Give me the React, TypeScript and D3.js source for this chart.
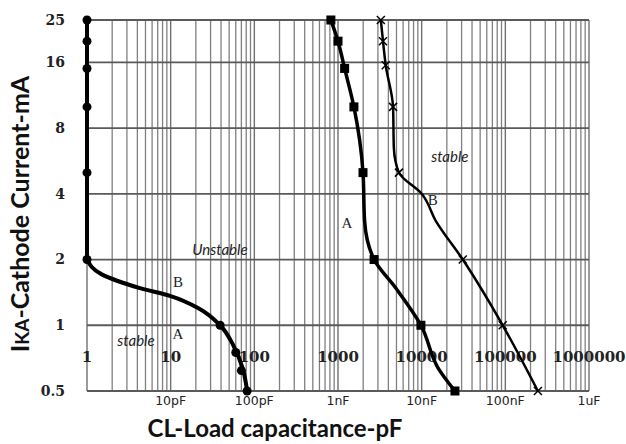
import React from 'react';
import * as d3 from 'd3';

// left curve (pF / mA)
const leftCap = [1, 1, 1, 1, 1, 1, 1.5, 4.3, 10, 22, 39, 56, 73, 82];
const leftMa = [25, 20, 15, 10, 5, 2, 1.71, 1.48, 1.36, 1.19, 1.0, 0.81, 0.63, 0.5];
const leftMarkCap = [1, 1, 1, 1, 1, 1, 39, 60, 70, 82];
const leftMarkMa = [25, 20, 15, 10, 5, 2, 1.0, 0.75, 0.62, 0.5];

// curve A
const aCap = [822, 1000, 1200, 1550, 1990, 2080, 2700, 4900, 9800, 16000, 25000];
const aMa = [25, 20, 15, 10, 5, 3, 2, 1.48, 1, 0.63, 0.5];
const aMarkCap = [822, 1000, 1200, 1550, 1990, 2700, 9800, 25000];
const aMarkMa = [25, 20, 15, 10, 5, 2, 1, 0.5];

// curve B
const bCap = [3250, 3450, 3720, 4550, 4650, 5350, 10000, 14800, 31000, 93000, 245000];
const bMa = [25, 20, 15.5, 10, 6.5, 5, 4, 3, 2, 1, 0.5];
const bMarkCap = [3250, 3450, 3720, 4550, 5350, 31000, 93000, 245000];
const bMarkMa = [25, 20, 15.5, 10, 5, 2, 1, 0.5];

const yTicks = [0.5, 1, 2, 4, 8, 16, 25];
const xTicks = [1, 10, 100, 1000, 10000, 100000, 1000000];
const unitTicks = [10, 100, 1000, 10000, 100000, 1000000];
const unitLabels = ['10pF', '100pF', '1nF', '10nF', '100nF', '1uF'];

const noteText = ['B', 'A', 'stable', 'Unstable', 'A', 'stable', 'B'];
const noteCap = [12.2, 12.2, 3.85, 38.8, 1277, 21700, 13600];
const noteMa = [1.58, 0.915, 0.85, 2.22, 2.95, 5.92, 3.77];
const noteItalic = [false, false, true, true, false, true, false];

const W = 626;
const H = 444;

export default function App() {
  const x = d3.scaleLog().domain([1, 1e6]).range([87, 589]);
  const y = d3.scaleLog().base(2).domain([0.5, 25]).range([391, 20]);

  const minor: number[] = [];
  for (let d = 1; d < 1e6; d *= 10) {
    for (let m = 2; m <= 9; m++) minor.push(d * m);
  }

  const smooth = d3
    .line<[number, number]>()
    .x((d) => x(d[0]))
    .y((d) => y(d[1]))
    .curve(d3.curveMonotoneY);
  const straight = d3
    .line<[number, number]>()
    .x((d) => x(d[0]))
    .y((d) => y(d[1]));

  const zip = (a: number[], b: number[]) => a.map((v, i) => [v, b[i]] as [number, number]);
  const left = zip(leftCap, leftMa);
  const leftUp = left.slice(0, 6);
  const leftTail = left.slice(5);

  return (
    <svg width={W} height={H} style={{ position: 'absolute', left: 0, top: 0, background: '#fff' }}>
      <rect width={W} height={H} fill="#fff" />
      {/* grid */}
      {minor.map((v) => (
        <line key={'m' + v} x1={x(v)} x2={x(v)} y1={y(25)} y2={y(0.5)} stroke="#808080" strokeWidth={1.3} />
      ))}
      {xTicks.map((v) => (
        <line key={'v' + v} x1={x(v)} x2={x(v)} y1={y(25)} y2={y(0.5)} stroke="#707070" strokeWidth={1.4} />
      ))}
      {yTicks.map((v) => (
        <line key={'h' + v} x1={x(1)} x2={x(1e6)} y1={y(v)} y2={y(v)} stroke="#5a5a5a" strokeWidth={1.8} />
      ))}

      {/* y tick labels */}
      {yTicks.map((v) => (
        <text key={'yt' + v} x={65} y={y(v)} dy="0.35em" textAnchor="end"
          fontFamily="DejaVu Serif" fontWeight="bold" fontSize={14} fill="#222">{v}</text>
      ))}
      {/* x tick labels inside plot */}
      {xTicks.map((v) => (
        <text key={'xt' + v} x={x(v)} y={357} dy="0.35em" textAnchor="middle"
          fontFamily="DejaVu Serif" fontWeight="bold" fontSize={15} fill="#222">{v}</text>
      ))}
      {unitTicks.map((v, i) => (
        <text key={'u' + v} x={x(v)} y={401} dy="0.35em" textAnchor="middle"
          fontFamily="DejaVu Sans" fontSize={12.5} fill="#222">{unitLabels[i]}</text>
      ))}

      {/* curves */}
      <path d={straight(leftUp) || ''} fill="none" stroke="#000" strokeWidth={4} />
      <path d={smooth(leftTail) || ''} fill="none" stroke="#000" strokeWidth={4} />
      <path d={smooth(zip(aCap, aMa)) || ''} fill="none" stroke="#000" strokeWidth={3.5} />
      <path d={smooth(zip(bCap, bMa)) || ''} fill="none" stroke="#000" strokeWidth={2.5} />

      {leftMarkCap.map((c, i) => (
        <circle key={'lm' + i} cx={x(c)} cy={y(leftMarkMa[i])} r={4.5} fill="#000" />
      ))}
      {aMarkCap.map((c, i) => (
        <rect key={'am' + i} x={x(c) - 4.5} y={y(aMarkMa[i]) - 4.5} width={9} height={9} fill="#000" />
      ))}
      {bMarkCap.map((c, i) => {
        const cx = x(c);
        const cy = y(bMarkMa[i]);
        return (
          <g key={'bm' + i} stroke="#000" strokeWidth={1.5}>
            <line x1={cx - 4} y1={cy - 4} x2={cx + 4} y2={cy + 4} />
            <line x1={cx - 4} y1={cy + 4} x2={cx + 4} y2={cy - 4} />
          </g>
        );
      })}

      {/* annotations */}
      {noteText.map((t, i) => (
        <text key={'n' + i} x={x(noteCap[i])} y={y(noteMa[i])} dy="0.35em" textAnchor="middle"
          fontFamily={noteItalic[i] ? 'Lato' : 'Liberation Serif'} fontStyle={noteItalic[i] ? 'italic' : 'normal'}
          fontSize={15} fill="#222">{t}</text>
      ))}

      {/* axis titles */}
      <text x={275} y={437} textAnchor="middle" fontFamily="Lato" fontWeight="bold" fontSize={24} fill="#111">
        CL-Load capacitance-pF
      </text>
      <text transform="translate(29,214) rotate(-90)" textAnchor="middle" fontFamily="Lato" fontWeight="bold"
        fontSize={25} fill="#111">
        I<tspan fontSize={19}>KA</tspan>-Cathode Current-mA
      </text>
    </svg>
  );
}
